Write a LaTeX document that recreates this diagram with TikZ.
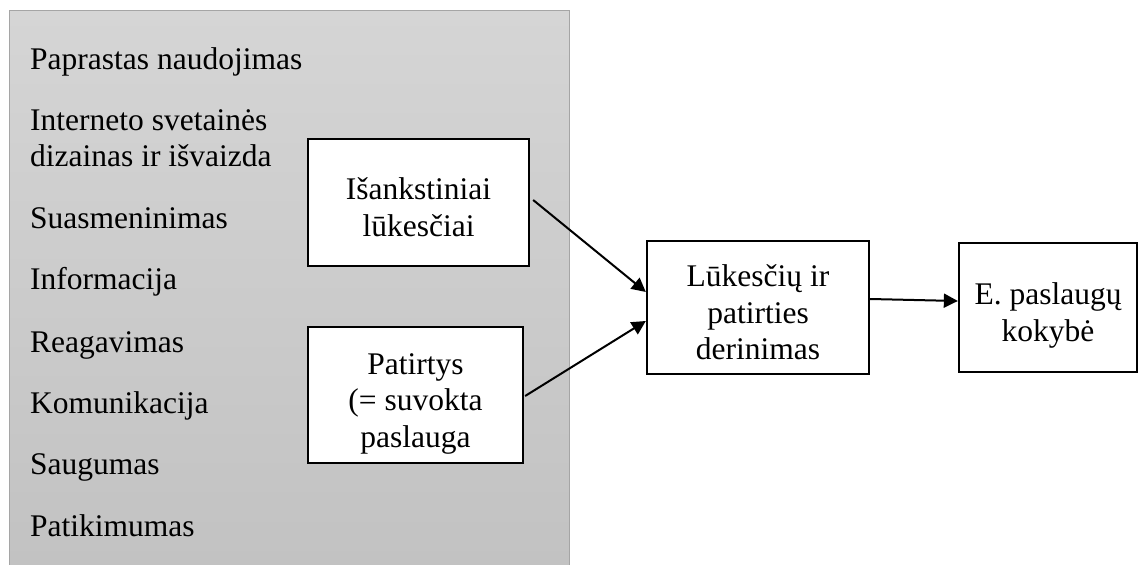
\documentclass[tikz,border=0pt]{standalone}
\usepackage{fontspec}
\setmainfont{Liberation Serif}
\usetikzlibrary{arrows.meta,calc}
\newcommand\fst{\rule{0pt}{1.207em}}
\newcommand\lnst{\rule[-0.216em]{0pt}{0pt}}
\tikzset{
  boxnode/.style={draw=black, line width=2.3bp, fill=white, inner sep=0pt, align=center,
    font=\fontsize{31.5bp}{36.5bp}\selectfont},
  listtext/.style={anchor=base west, inner sep=0pt,
    font=\fontsize{31.5bp}{36.5bp}\selectfont},
  conn/.style={line width=2bp, -{Triangle[length=14bp,width=14bp]}},
}
\begin{document}
\begin{tikzpicture}[x=1bp,y=-1bp]
\useasboundingbox (0,0) rectangle (1142,565);
% gray panel
\shade[top color={rgb,255:red,213;green,213;blue,213}, bottom color={rgb,255:red,194;green,194;blue,194}] (9,11) rectangle (569,565);
\draw[line width=1bp, color={rgb,255:red,165;green,165;blue,165}] (9,565) -- (9,11) -- (569,11) -- (569,565);
% list
\node[listtext] (t1) at (30,70) {Paprastas naudojimas};
\node[listtext] (t2a) at (30,131) {Interneto svetainės};
\node[listtext] (t2b) at (30,167) {dizainas ir išvaizda};
\node[listtext] (t3) at (30,229) {Suasmeninimas};
\node[listtext] (t4) at (30,290) {Informacija};
\node[listtext] (t5) at (30,352) {Reagavimas};
\node[listtext] (t6) at (30,413) {Komunikacija};
\node[listtext] (t7) at (30,474) {Saugumas};
\node[listtext] (t8) at (30,536) {Patikimumas};
% boxes
\node[boxnode, minimum width=221bp, minimum height=127bp] (b1) at (418.5,202.5) {\fst Išankstiniai\\lūkesčiai\lnst};
\node[boxnode, minimum width=215bp, minimum height=136bp] (b2) at (415.5,395) {\fst Patirtys\\(= suvokta\\paslauga\lnst};
\node[boxnode, minimum width=222bp, minimum height=133bp] (mid) at (758,307.5) {\fst Lūkesčių ir\\patirties\\derinimas\lnst};
\node[boxnode, minimum width=178bp, minimum height=129bp] (rb) at (1048,307.5) {\fst E. paslaugų\\kokybė\lnst};
% connectors
\draw[conn] ($(b1.east)+(3,-2.5)$) -- ($(mid.west)+(0,-15.5)$);
\draw[conn] ($(b2.east)+(1,1)$) -- ($(mid.west)+(0,13.5)$);
\draw[conn] ($(mid.east)+(0,-8.5)$) -- ($(rb.west)+(0,-6.5)$);
\end{tikzpicture}
\end{document}
